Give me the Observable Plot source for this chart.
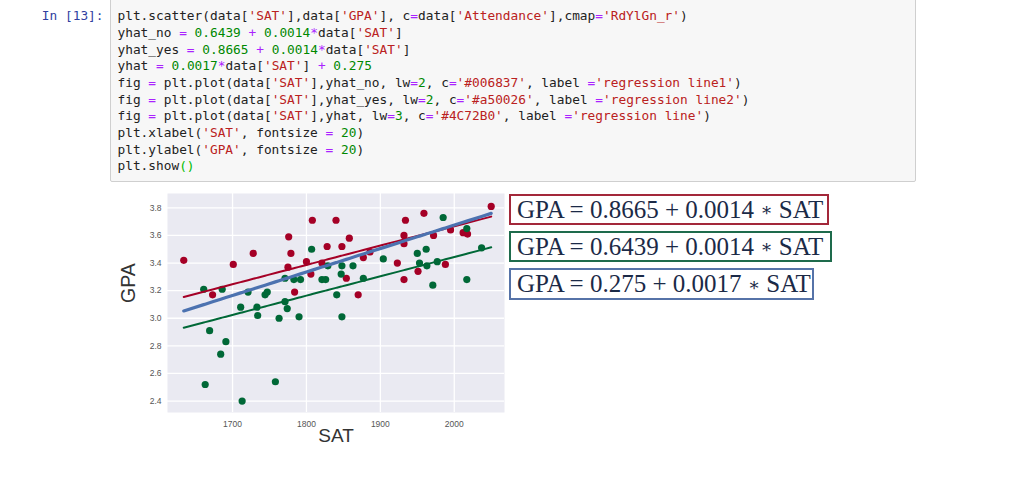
<!DOCTYPE html>
<html>
<head>
<meta charset="utf-8">
<script src="https://cdn.jsdelivr.net/npm/d3@7"></script>
<script src="https://cdn.jsdelivr.net/npm/@observablehq/plot@0.6"></script>
<style>
  html, body { margin: 0; padding: 0; background: #fff; width: 1024px; height: 489px; overflow: hidden; position: relative; }
  .prompt { position: absolute; left: 0; width: 103.5px; top: 8.3px; text-align: right; font-family: "DejaVu Sans Mono", monospace; font-size: 12.8px; line-height: 16.67px; color: #303F9F; white-space: pre; }
  .cell { position: absolute; left: 110px; top: -2px; width: 806px; height: 184px; background: #f7f7f7; border: 1px solid #cfcfcf; border-radius: 2px; box-sizing: border-box; }
  .code { position: absolute; left: 117.5px; top: 8.3px; font-family: "DejaVu Sans Mono", monospace; font-size: 12.8px; color: #222; }
  .code div { height: 16.67px; line-height: 16.67px; white-space: pre; }
  .t { color: #222; } .s { color: #BA2121; } .n { color: #008800; } .o { color: #AA22FF; } .b { color: #00bb00; }
  #chart { position: absolute; left: 110px; top: 186px; }
  .eq { position: absolute; left: 509px; box-sizing: border-box; border: 2px solid; font-family: "Liberation Serif", "DejaVu Serif", serif; font-size: 25px; color: #1B2A47; white-space: pre; display: flex; align-items: center; padding-left: 6px; }
  .eq .ast { font-family: "DejaVu Serif", serif; font-size: 18px; }
</style>
</head>
<body>
<div class="prompt">In [13]:</div>
<div class="cell"></div>
<div class="code" id="code"></div>
<div id="chart"></div>
<div id="eqs"></div>
<script>
// ---- code cell text ----
const codeLines = [
  "plt.scatter(data['SAT'],data['GPA'], c=data['Attendance'],cmap='RdYlGn_r')",
  "yhat_no = 0.6439 + 0.0014*data['SAT']",
  "yhat_yes = 0.8665 + 0.0014*data['SAT']",
  "yhat = 0.0017*data['SAT'] + 0.275",
  "fig = plt.plot(data['SAT'],yhat_no, lw=2, c='#006837', label ='regression line1')",
  "fig = plt.plot(data['SAT'],yhat_yes, lw=2, c='#a50026', label ='regression line2')",
  "fig = plt.plot(data['SAT'],yhat, lw=3, c='#4C72B0', label ='regression line')",
  "plt.xlabel('SAT', fontsize = 20)",
  "plt.ylabel('GPA', fontsize = 20)",
  "plt.show()"
];

// ---- chart data ----
const sat = [
  1634, 1673, 1701, 1728, 1776, 1779, 1775, 1784, 1808, 1800, 1806, 1821, 1828, 1840, 1848, 1858, 1854,
  1870, 1877, 1886, 1923, 1932, 1934, 1932, 1932, 1951, 1959, 1972, 1988, 1995, 2012, 2018, 2050,
  1661, 1663, 1669, 1684, 1686, 1691, 1711, 1713, 1721, 1733, 1734, 1744, 1747, 1758, 1763, 1771, 1771,
  1774, 1783, 1790, 1792, 1807, 1821, 1826, 1829, 1841, 1847, 1848, 1848, 1863, 1877, 1904, 1950, 1953,
  1962, 1963, 1971, 1977, 1985, 2017, 2017, 2037
];
const gpa = [
  3.42, 3.17, 3.39, 3.47, 3.59, 3.47, 3.37, 3.19, 3.71, 3.41, 3.32, 3.40, 3.52, 3.71, 3.52, 3.58, 3.29,
  3.17, 3.44, 3.48, 3.40, 3.28, 3.71, 3.60, 3.54, 3.34, 3.76, 3.60, 3.39, 3.64, 3.62, 3.61, 3.81,
  3.21, 2.52, 2.91, 2.74, 3.21, 2.83, 3.08, 2.40, 3.19, 3.08, 3.02, 3.17, 3.19, 2.54, 3.00, 3.12, 3.29,
  3.07, 3.28, 3.01, 3.28, 3.50, 3.28, 3.28, 3.38, 3.17, 3.32, 3.01, 3.38, 3.38, 3.29, 3.43, 3.47, 3.40,
  3.50, 3.38, 3.24, 3.41, 3.73, 3.65, 3.28, 3.51
];
const attendance = [
  "Yes","Yes","Yes","Yes","Yes","Yes","Yes","Yes","Yes","Yes","Yes","Yes","Yes","Yes","Yes","Yes","Yes",
  "Yes","Yes","Yes","Yes","Yes","Yes","Yes","Yes","Yes","Yes","Yes","Yes","Yes","Yes","Yes","Yes",
  "No","No","No","No","No","No","No","No","No","No","No","No","No","No","No","No","No",
  "No","No","No","No","No","No","No","No","No","No","No","No","No","No","No","No","No",
  "No","No","No","No","No","No","No","No"
];
const xTicks = [1700, 1800, 1900, 2000];
const yTicks = [2.4, 2.6, 2.8, 3.0, 3.2, 3.4, 3.6, 3.8];
const lineNames = ["regression line1", "regression line2", "regression line"];
const intercepts = [0.6439, 0.8665, 0.275];
const slopes = [0.0014, 0.0014, 0.0017];
const lineColors = ["#006837", "#a50026", "#4C72B0"];
const lineWidths = [2, 2, 3.2];
const equations = ["GPA = 0.8665 + 0.0014 ∗ SAT", "GPA = 0.6439 + 0.0014 ∗ SAT", "GPA = 0.275 + 0.0017 ∗ SAT"];
const eqColors = ["#a3283a", "#1e6b4c", "#5673a8"];

// ---- render code ----
function esc(s) { return s.replace(/&/g, "&amp;").replace(/</g, "&lt;").replace(/>/g, "&gt;"); }
function hl(line) {
  const re = /('[^']*')|(\b\d+(?:\.\d+)?\b)|([=+*])|(\(\)$)/g;
  let out = "", last = 0, m;
  while ((m = re.exec(line)) !== null) {
    if (m.index > last) out += `<span class="t">${esc(line.slice(last, m.index))}</span>`;
    const cls = m[1] ? "s" : m[2] ? "n" : m[3] ? "o" : "b";
    out += `<span class="${cls}">${esc(m[0])}</span>`;
    last = m.index + m[0].length;
  }
  if (last < line.length) out += `<span class="t">${esc(line.slice(last))}</span>`;
  return `<div>${out}</div>`;
}
document.getElementById("code").innerHTML = codeLines.map(hl).join("");

// ---- chart ----
const points = sat.map((s, i) => ({sat: s, gpa: gpa[i], att: attendance[i]}));
const satSorted = [...sat].sort((a, b) => a - b);
const lineData = lineNames.map((name, k) =>
  satSorted.map(s => ({name, sat: s, gpa: intercepts[k] + slopes[k] * s})));

const plot = Plot.plot({
  width: 400,
  height: 274,
  marginLeft: 57,
  marginRight: 6,
  marginTop: 7,
  marginBottom: 48,
  style: {background: "transparent", fontFamily: "'Liberation Sans', Arial, sans-serif", fontSize: "8.5px", color: "#555"},
  x: {domain: [1612, 2068]},
  y: {domain: [2.317, 3.904]},
  color: {domain: ["No", "Yes"], range: ["#006837", "#a50026"]},
  marks: [
    Plot.frame({fill: "#eaeaf2", stroke: "none"}),
    Plot.gridX(xTicks, {stroke: "white", strokeOpacity: 1, strokeWidth: 1.3}),
    Plot.gridY(yTicks, {stroke: "white", strokeOpacity: 1, strokeWidth: 1.3}),
    Plot.axisX(xTicks, {tickSize: 0, tickPadding: 8, label: null, color: "#555", tickFormat: d => String(d)}),
    Plot.axisY(yTicks, {tickSize: 0, tickPadding: 6, label: null, color: "#555", tickFormat: d3.format(".1f")}),
    Plot.dot(points, {x: "sat", y: "gpa", fill: "att", r: 3.6, stroke: "none"}),
    ...lineData.map((d, k) => Plot.line(d, {x: "sat", y: "gpa", stroke: lineColors[k], strokeWidth: lineWidths[k]})),
    Plot.text(["GPA"], {frameAnchor: "left", dx: -39, rotate: -90, fontSize: 19.5, fill: "#333", fontFamily: "'Liberation Sans', Arial, sans-serif"}),
    Plot.text(["SAT"], {frameAnchor: "bottom", dy: 29, fontSize: 19, fill: "#333", fontFamily: "'Liberation Sans', Arial, sans-serif"})
  ]
});
document.getElementById("chart").appendChild(plot);

// ---- equation boxes ----
const eqTops = [194, 231, 268];
const eqWidths = [320, 323, 305];
const eqHeights = [31, 31, 32];
const eqDiv = document.getElementById("eqs");
equations.forEach((t, k) => {
  const d = document.createElement("div");
  d.className = "eq";
  d.style.top = eqTops[k] + "px";
  d.style.width = eqWidths[k] + "px";
  d.style.height = eqHeights[k] + "px";
  d.style.borderColor = eqColors[k];
  const parts = t.split("∗");
  const a = document.createElement("span"); a.textContent = parts[0];
  const s = document.createElement("span"); s.className = "ast"; s.textContent = "∗";
  const b = document.createElement("span"); b.textContent = parts[1];
  d.append(a, s, b);
  eqDiv.appendChild(d);
});
</script>
</body>
</html>
